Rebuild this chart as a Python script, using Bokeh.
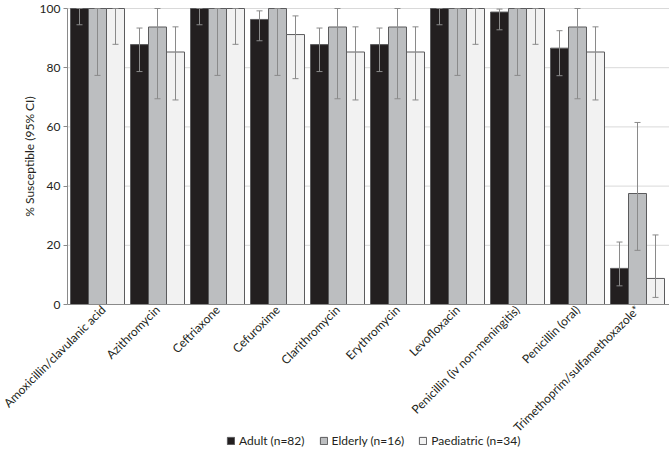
import math
from bokeh.plotting import figure
from bokeh.models import (Range1d, ColumnDataSource, Whisker, TeeHead, Legend,
                          LegendItem, FixedTicker)
from bokeh.transform import dodge
from bokeh.embed import file_html
from bokeh.resources import INLINE

categories = ["Amoxicillin/clavulanic acid", "Azithromycin", "Ceftriaxone", "Cefuroxime",
              "Clarithromycin", "Erythromycin", "Levofloxacin", "Penicillin (iv non-meningitis)",
              "Penicillin (oral)", "Trimethoprim/sulfamethoxazole*"]

adult = [100, 87.8, 100, 96.3, 87.8, 87.8, 100, 98.8, 86.6, 12.2]
adult_lo = [94.5, 78.7, 94.5, 89.1, 78.7, 78.7, 94.5, 92.8, 77.3, 6.3]
adult_hi = [100, 93.4, 100, 99.2, 93.4, 93.4, 100, 99.8, 92.5, 21.1]

elderly = [100, 93.75, 100, 100, 93.75, 93.75, 100, 100, 93.75, 37.5]
elderly_lo = [77.4, 69.5, 77.4, 77.4, 69.5, 69.5, 77.4, 77.4, 69.5, 18.3]
elderly_hi = [100, 100, 100, 100, 100, 100, 100, 100, 100, 61.5]

paed = [100, 85.3, 100, 91.2, 85.3, 85.3, 100, 100, 85.3, 8.8]
paed_lo = [87.9, 69.1, 87.9, 76.3, 69.1, 69.1, 87.9, 87.9, 69.1, 2.4]
paed_hi = [100, 93.8, 100, 97.5, 93.8, 93.8, 100, 100, 93.8, 23.5]

y_ticks = [0, 20, 40, 60, 80, 100]

series_names = ["Adult (n=82)", "Elderly (n=16)", "Paediatric (n=34)"]
colors = ["#231f20", "#bcbec0", "#f2f2f2"]

FONT = "Lato"
N = len(categories)
xs = list(range(N))

src = ColumnDataSource(dict(x=xs, cat=categories,
                            adult=adult, adult_lo=adult_lo, adult_hi=adult_hi,
                            elderly=elderly, elderly_lo=elderly_lo, elderly_hi=elderly_hi,
                            paed=paed, paed_lo=paed_lo, paed_hi=paed_hi))

# The frame covers the whole canvas; axes are pinned inside it so that the rotated
# category labels and the legend are laid out like the original.
x_lo, x_hi = -0.5, N - 0.5
PX = 2.96  # pixels per percentage point
p = figure(x_range=Range1d(x_lo - 67 / 60, x_lo - 67 / 60 + 669 / 60),
           y_range=Range1d(-152 / PX, 100 + 8 / PX),
           frame_width=669, frame_height=456,
           output_backend="svg", toolbar_location=None,
           min_border_left=0, min_border_right=0, min_border_top=0, min_border_bottom=0)
p.outline_line_color = None
p.background_fill_color = "white"
p.xgrid.grid_line_color = None
p.ygrid.grid_line_color = None

# horizontal gridlines from the y ticks, limited to the plotting area
grid_src = ColumnDataSource(dict(y=y_ticks[1:], x0=[x_lo] * (len(y_ticks) - 1),
                                 x1=[x_hi + 0.03] * (len(y_ticks) - 1)))
p.segment(x0="x0", x1="x1", y0="y", y1="y", source=grid_src,
          line_color="#d9d9d9", line_width=1, level="underlay")

offsets = [-0.3, 0.0, 0.3]
keys = ["adult", "elderly", "paed"]
renderers = []
for k, off, c in zip(keys, offsets, colors):
    r = p.vbar(x=dodge("x", off), top=k, width=0.3, bottom=0,
               source=src, fill_color=c, line_color="#5b5b5d", line_width=1)
    renderers.append(r)
    w = Whisker(base=dodge("x", off), lower=k + "_lo", upper=k + "_hi",
                source=src, line_color="#8a8a8a", line_width=1, level="overlay",
                upper_head=TeeHead(size=6, line_color="#8a8a8a", line_width=1),
                lower_head=TeeHead(size=6, line_color="#8a8a8a", line_width=1))
    p.add_layout(w)

p.yaxis.fixed_location = x_lo
p.yaxis.ticker = FixedTicker(ticks=y_ticks)
p.yaxis.bounds = (0, 100)
p.yaxis.axis_label = "% Susceptible (95% CI)"
p.yaxis.axis_label_text_font = FONT
p.yaxis.axis_label_text_font_style = "normal"
p.yaxis.axis_label_text_font_size = "12px"
p.yaxis.axis_label_text_color = "#231f20"
p.yaxis.axis_label_standoff = 0
p.yaxis.major_label_text_font = FONT
p.yaxis.major_label_text_font_size = "12px"
p.yaxis.major_label_text_color = "#231f20"
p.yaxis.major_label_standoff = 3
p.yaxis.axis_line_color = "#8a8a8a"
p.yaxis.major_tick_line_color = "#8a8a8a"
p.yaxis.major_tick_in = 0
p.yaxis.major_tick_out = 4
p.yaxis.minor_tick_line_color = None

p.xaxis.fixed_location = 0
p.xaxis.ticker = FixedTicker(ticks=xs)
p.xaxis.major_label_overrides = {i: c for i, c in zip(xs, categories)}
p.xaxis.bounds = (x_lo, x_hi + 0.03)
p.xaxis.major_label_orientation = math.pi / 4
p.xaxis.major_label_text_font = FONT
p.xaxis.major_label_text_font_size = "12px"
p.xaxis.major_label_text_color = "#231f20"
p.xaxis.axis_line_color = "#8a8a8a"
p.xaxis.major_tick_line_color = None
p.xaxis.minor_tick_line_color = None
p.xaxis.major_tick_out = 0
p.xaxis.major_label_standoff = 3

legend = Legend(items=[LegendItem(label=n, renderers=[r]) for n, r in zip(series_names, renderers)],
                orientation="horizontal", location=(226, 8))
legend.label_text_font = FONT
legend.label_text_font_size = "12px"
legend.label_text_color = "#231f20"
legend.glyph_width = 9
legend.glyph_height = 9
legend.spacing = 14
legend.label_standoff = 4
legend.border_line_color = None
legend.background_fill_alpha = 0
legend.padding = 2
legend.margin = 0
p.add_layout(legend, "center")

open("out.html", "w").write(file_html(p, INLINE))
